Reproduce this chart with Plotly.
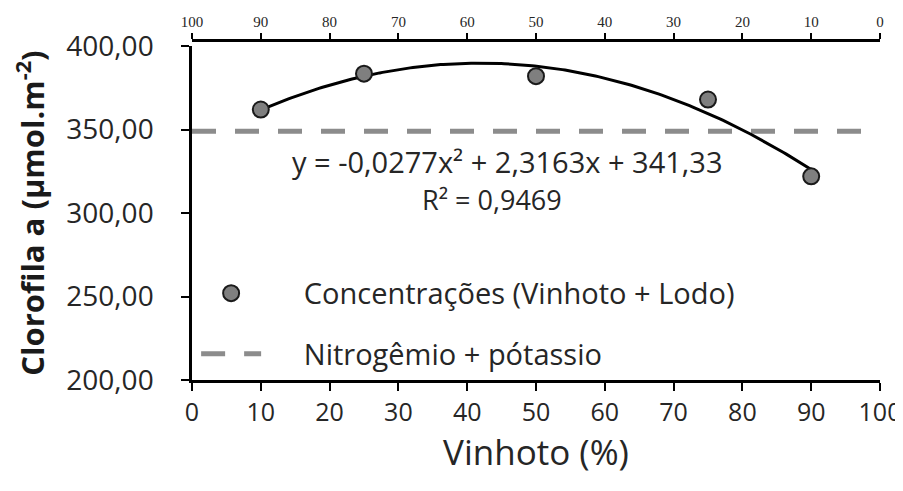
import numpy as np
import plotly.graph_objects as go

# Data
vinhoto = [10, 25, 50, 75, 90]
clorofila = [362, 383.5, 382, 368, 322]
np_x = [0, 100]
np_y = [349, 349]
top_ticks = [100, 90, 80, 70, 60, 50, 40, 30, 20, 10, 0]
equation_text = "y = -0,0277x² + 2,3163x + 341,33"
r2_text = "R² = 0,9469"

# quadratic trendline fitted to the points (as the spreadsheet trendline)
coef = np.polyfit(vinhoto, clorofila, 2)
tx = np.linspace(min(vinhoto), max(vinhoto), 200)
ty = np.polyval(coef, tx)

FONT = "Open Sans"
TXT = "#262626"
PAD = "\u00a0" * 5

fig = go.Figure()
fig.add_trace(go.Scatter(
    x=np_x, y=np_y, mode="lines", name=PAD + "Nitrogêmio + pótassio",
    line=dict(color="#8c8c8c", width=5, dash="24px,19px"),
    legendgroup="b", legendrank=2))
fig.add_trace(go.Scatter(
    x=tx, y=ty, mode="lines", showlegend=False,
    line=dict(color="black", width=3)))
fig.add_trace(go.Scatter(
    x=vinhoto, y=clorofila, mode="markers",
    name=PAD + "Concentrações (Vinhoto + Lodo)",
    marker=dict(size=16, color="#7f7f7f", line=dict(color="#1a1a1a", width=2)),
    legendgroup="a", legendrank=1))
# invisible trace for top axis
fig.add_trace(go.Scatter(x=top_ticks, y=[None]*len(top_ticks), xaxis="x2",
                         showlegend=False, hoverinfo="skip"))

fig.add_annotation(x=45.8, y=331, text=equation_text, showarrow=False,
                   font=dict(family=FONT, size=29, color=TXT))
fig.add_annotation(x=43.6, y=308.4, text=r2_text, showarrow=False,
                   font=dict(family=FONT, size=27, color=TXT))

fig.update_layout(
    width=903, height=491,
    margin=dict(l=184, r=31, t=32, b=119),
    plot_bgcolor="white", paper_bgcolor="white",
    separators=", ",
    font=dict(family=FONT, color=TXT),
    showlegend=True,
    legend=dict(x=0.006, y=0.33, xanchor="left", yanchor="top",
                bgcolor="rgba(0,0,0,0)", font=dict(family=FONT, size=29, color=TXT),
                tracegroupgap=20, itemwidth=60),
    xaxis=dict(range=[0, 100], tickvals=list(range(0, 101, 10)),
               showline=True, linecolor="black", linewidth=2.5,
               ticks="outside", ticklen=8, tickwidth=2, tickcolor="black",
               showgrid=False, zeroline=False, automargin=False,
               tickfont=dict(family=FONT, size=25, color=TXT),
               title=dict(text="Vinhoto (%)", font=dict(family=FONT, size=35, color=TXT), standoff=12)),
    xaxis2=dict(range=[100, 0], overlaying="x", side="top", anchor="free", position=1,
                tickvals=top_ticks, showline=True, linecolor="black", linewidth=2.5,
                ticks="outside", ticklen=6, tickwidth=2, tickcolor="black",
                showgrid=False, zeroline=False, automargin=False,
                tickfont=dict(family="Liberation Sans Narrow", size=15, color=TXT)),
    yaxis=dict(range=[200, 400], tickvals=[200, 250, 300, 350, 400], tickformat=".2f",
               domain=[0, 0.982],
               showline=True, linecolor="black", linewidth=2.5,
               ticks="outside", ticklen=8, tickwidth=2, tickcolor="black",
               ticklabelstandoff=22,
               showgrid=False, zeroline=False, automargin=False,
               tickfont=dict(family=FONT, size=28, color=TXT),
               title=dict(text="<b>Clorofila a (μmol.m<sup>-2</sup>)</b>",
                          font=dict(family=FONT, size=31, color="#1a1a1a"), standoff=14)),
)

fig.write_html("out.html")
